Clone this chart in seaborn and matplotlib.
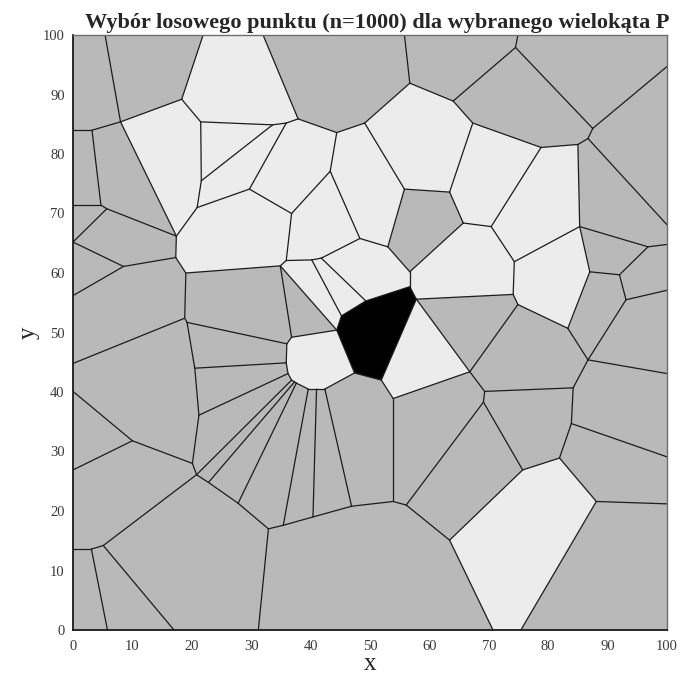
import matplotlib
matplotlib.use("Agg")
import matplotlib.pyplot as plt
import pandas as pd
import seaborn as sns

# ---------------------------------------------------------------- vertices
# Points where Voronoi edges meet the frame [0, 100] x [0, 100]
frame_pts = {
    "T1": (5.4, 100), "T2": (21.9, 100), "T3": (32.0, 100), "T4": (55.8, 100), "T5": (74.9, 100),
    "L1": (0, 84.0), "L2": (0, 71.4), "L3": (0, 65.2), "L4": (0, 56.2),
    "L5": (0, 44.8), "L6": (0, 40.1), "L7": (0, 26.9), "L8": (0, 13.6),
    "B1": (5.8, 0), "B2": (17.0, 0), "B3": (31.2, 0), "B4": (70.7, 0), "B5": (75.4, 0),
    "R1": (100, 94.7), "R2": (100, 68.1), "R3": (100, 64.8), "R4": (100, 57.1),
    "R5": (100, 43.1), "R6": (100, 29.1), "R7": (100, 21.2),
}

# Voronoi vertices, upper half
upper_pts = {
    "V1": (8.0, 85.4), "V2": (3.2, 84.0), "V3": (4.7, 71.4), "V4": (5.7, 70.8),
    "V5": (8.5, 61.1), "V6": (17.3, 62.6), "V7": (17.4, 66.2), "V8": (19.0, 60.0),
    "V5a": (18.3, 89.2), "V6a": (21.5, 85.4), "V8a": (21.6, 75.5), "V9a": (20.9, 71.0),
    "V17": (33.6, 84.9), "V18": (35.9, 85.2), "V7a": (37.9, 85.9), "V10a": (29.7, 74.1),
    "V11": (44.4, 83.6), "V12": (49.1, 85.2), "V13": (56.7, 91.9), "V14": (64.0, 88.9),
    "V15": (43.3, 77.1), "V16": (36.8, 70.0), "V19": (55.8, 74.1), "V20": (63.4, 73.6),
    "V21": (65.7, 68.4), "V22": (74.5, 97.9), "V23": (87.5, 84.3), "V24": (86.7, 82.6),
    "V25": (85.0, 81.6), "V26": (78.8, 81.1), "V27": (67.3, 85.2), "V28": (70.4, 67.8),
    "V29": (85.3, 67.8), "V30": (74.3, 61.9), "V33": (96.8, 64.4), "V34": (87.0, 60.2),
    "V35": (92.0, 59.7), "V43": (35.9, 62.1), "V44": (34.9, 61.2), "Tj": (40.2, 62.2),
    "V45": (41.8, 62.5), "V46": (48.3, 65.8), "V47": (53.0, 64.4), "V48": (56.7, 60.2),
}

# Voronoi vertices, lower half
lower_pts = {
    "V9": (18.8, 52.4), "V10": (19.2, 51.7), "C1": (20.5, 44.0), "C2": (21.2, 36.1),
    "C3": (20.1, 28.0), "C4": (20.8, 26.1), "V13b": (10.0, 31.8), "V16b": (5.1, 14.2),
    "V17b": (3.1, 13.6), "Fa": (22.8, 24.8), "V17c": (27.8, 21.3), "V18c": (32.9, 17.0),
    "Fb": (35.4, 17.6), "Fc": (40.4, 19.0), "Fd": (46.9, 20.8), "V59": (53.9, 21.6),
    "V58": (56.1, 21.0), "V57": (63.4, 15.1), "V52": (53.9, 38.9), "V31": (74.1, 56.4),
    "V32": (74.9, 54.7), "V36": (93.1, 55.5), "V37": (86.7, 45.4), "V38": (83.3, 50.7),
    "V39": (84.2, 40.7), "V40": (69.3, 40.1), "V41": (66.8, 43.4), "V42": (69.1, 38.3),
    "V53": (75.7, 26.9), "V54": (81.9, 28.9), "V55": (83.9, 34.7), "V56": (88.1, 21.6),
}

# Rounded cell left of the sampled polygon
round_pts = {
    "RC1": (36.0, 48.1), "RC2": (36.8, 49.2), "RC5": (42.4, 40.5), "RC6": (41.0, 40.5),
    "RC7": (39.6, 40.5), "RC8": (37.6, 41.5), "RC9": (37.3, 41.7), "RC10": (36.8, 42.0),
    "RC11": (36.2, 43.1), "RC12": (35.9, 44.9),
}

# Chosen polygon P
poly_p = {
    "P1": (44.4, 50.4), "P2": (45.2, 52.8), "P3": (49.3, 55.3), "P4": (56.7, 57.7),
    "P5": (57.8, 55.6), "P6": (51.9, 42.0), "P7": (47.4, 43.2),
}

pts = {**frame_pts, **upper_pts, **lower_pts, **round_pts, **poly_p}

# ------------------------------------------------------------------- edges
edges_upper = [
    ("T1", "V1"), ("V1", "V2"), ("V2", "L1"), ("V2", "V3"), ("V3", "L2"), ("V3", "V4"),
    ("V4", "L3"), ("V4", "V7"), ("V1", "V5a"), ("V1", "V7"), ("V5a", "T2"), ("V5a", "V6a"),
    ("V6a", "V17"), ("V6a", "V8a"), ("V8a", "V17"), ("V8a", "V9a"), ("V9a", "V7"),
    ("V9a", "V10a"), ("V17", "V18"), ("V18", "V7a"), ("V18", "V10a"), ("V7a", "T3"),
    ("V7a", "V11"), ("V11", "V12"), ("V11", "V15"), ("V15", "V16"), ("V15", "V46"),
    ("V16", "V10a"), ("V16", "V43"), ("V12", "V13"), ("V12", "V19"), ("V13", "T4"),
    ("V13", "V14"), ("V14", "V22"), ("V14", "V27"), ("V22", "T5"), ("V22", "V23"),
    ("V23", "R1"), ("V23", "V24"), ("V24", "R2"), ("V24", "V25"), ("V25", "V26"),
    ("V25", "V29"), ("V26", "V27"), ("V26", "V28"), ("V27", "V20"), ("V20", "V19"),
    ("V20", "V21"), ("V19", "V47"), ("V21", "V48"), ("V21", "V28"), ("V28", "V30"),
    ("V30", "V29"), ("V30", "V31"), ("V29", "V33"), ("V29", "V34"), ("V33", "R3"),
    ("V33", "V35"), ("V34", "V35"), ("V34", "V38"), ("V35", "V36"), ("V36", "R4"),
    ("V36", "V37"), ("V6", "V7"), ("V6", "V5"), ("V5", "L3"), ("V5", "L4"),
    ("V8", "V6"), ("V8", "V44"), ("V44", "V43"), ("V43", "Tj"), ("Tj", "V45"),
    ("V45", "V46"), ("V46", "V47"), ("V47", "V48"),
]

edges_lower = [
    ("V37", "R5"), ("V37", "V38"), ("V37", "V39"), ("V38", "V32"), ("V32", "V31"),
    ("V32", "V41"), ("V31", "P5"), ("V41", "P5"), ("V41", "V40"), ("V41", "V52"),
    ("V40", "V39"), ("V40", "V42"), ("V39", "V55"), ("V55", "R6"), ("V55", "V54"),
    ("V54", "V53"), ("V54", "V56"), ("V56", "R7"), ("V56", "B5"), ("V53", "V42"),
    ("V53", "V57"), ("V57", "B4"), ("V57", "V58"), ("V58", "V42"), ("V58", "V59"),
    ("V59", "V52"), ("V59", "Fd"), ("V52", "P6"), ("Fd", "Fc"), ("Fc", "Fb"),
    ("Fb", "V18c"), ("V18c", "B3"), ("V18c", "V17c"), ("V17c", "Fa"), ("Fa", "C4"),
    ("C4", "C3"), ("C4", "V16b"), ("C3", "C2"), ("C3", "V13b"), ("V13b", "L6"),
    ("V13b", "L7"), ("C2", "C1"), ("C1", "V10"), ("V10", "V9"), ("V9", "L5"),
    ("V9", "V8"), ("V16b", "V17b"), ("V16b", "B2"), ("V17b", "L8"), ("V17b", "B1"),
    ("V44", "RC2"), ("V44", "P1"), ("Tj", "P2"), ("V45", "P3"), ("V48", "P4"),
]

# Fan of edges ending on the rounded cell, and that cell's outline
edges_round = [
    ("C1", "RC12"), ("C2", "RC11"), ("C4", "RC10"), ("Fa", "RC9"), ("V17c", "RC8"),
    ("Fb", "RC7"), ("Fc", "RC6"), ("Fd", "RC5"), ("V10", "RC1"),
    ("RC1", "RC2"), ("RC2", "P1"), ("P7", "RC5"), ("RC5", "RC6"), ("RC6", "RC7"),
    ("RC7", "RC8"), ("RC8", "RC9"), ("RC9", "RC10"), ("RC10", "RC11"),
    ("RC11", "RC12"), ("RC12", "RC1"),
]

# -------------------------------------------------------------- cell fills
light_cells = [
    ["T2", "T3", "V7a", "V18", "V17", "V6a", "V5a"],
    ["V1", "V5a", "V6a", "V8a", "V9a", "V7"],
    ["V6a", "V17", "V8a"],
    ["V8a", "V17", "V18", "V10a", "V9a"],
    ["V7", "V9a", "V10a", "V16", "V43", "V44", "V8", "V6"],
    ["V7a", "V11", "V15", "V16", "V10a", "V18"],
    ["V11", "V12", "V19", "V47", "V46", "V15"],
    ["V12", "V13", "V14", "V27", "V20", "V19"],
    ["V27", "V26", "V28", "V21", "V20"],
    ["V26", "V25", "V29", "V30", "V28"],
    ["V30", "V29", "V34", "V38", "V32", "V31"],
    ["V21", "V28", "V30", "V31", "P5", "P4", "V48"],
    ["V15", "V46", "V45", "Tj", "V43", "V16"],
    ["V44", "V43", "Tj", "P2", "P1"],
    ["Tj", "V45", "P3", "P2"],
    ["V45", "V46", "V47", "V48", "P4", "P3"],
    ["P5", "V41", "V52", "P6"],
    ["V57", "V53", "V54", "V56", "B5", "B4"],
    ["RC1", "RC2", "P1", "P7", "RC5", "RC6", "RC7", "RC8", "RC9", "RC10", "RC11", "RC12"],
]
sampled_cell = ["P1", "P2", "P3", "P4", "P5", "P6", "P7"]

title = "Wybór losowego punktu (n=1000) dla wybranego wielokąta P"
ticks = list(range(0, 101, 10))

GRAY = "#b9b9b9"
LIGHT = "#ececec"
EDGE = "#1c1c1c"

# ------------------------------------------------------------------ figure
sns.set_style("white")
plt.rcParams["font.family"] = ["Liberation Serif", "DejaVu Serif"]

fig = plt.figure(figsize=(6.8, 6.88), dpi=100)
ax = fig.add_axes([73 / 680, 58 / 688, 594 / 680, 595 / 688])
ax.set_facecolor(GRAY)

for cell in light_cells:
    ax.fill([pts[k][0] for k in cell], [pts[k][1] for k in cell],
            color=LIGHT, lw=0, zorder=1)

ax.fill([pts[k][0] for k in sampled_cell], [pts[k][1] for k in sampled_cell],
        color="black", lw=0, zorder=2)

all_edges = edges_upper + edges_lower + edges_round
all_edges += [(sampled_cell[i], sampled_cell[(i + 1) % len(sampled_cell)])
              for i in range(len(sampled_cell))]
rows = []
for i, (a, b) in enumerate(all_edges):
    rows.append({"edge": i, "x": pts[a][0], "y": pts[a][1]})
    rows.append({"edge": i, "x": pts[b][0], "y": pts[b][1]})
seg = pd.DataFrame(rows)
sns.lineplot(data=seg, x="x", y="y", units="edge", estimator=None, sort=False,
             color=EDGE, lw=0.9, ax=ax, legend=False, zorder=3)

ax.set_xlim(0, 100)
ax.set_ylim(0, 100)
ax.set_xticks(ticks)
ax.set_yticks(ticks)
ax.tick_params(direction="in", length=4, width=0.8, colors="black",
               labelcolor="#3a3a3a", labelsize=10.5, top=False, right=False)
ax.tick_params(axis="x", pad=7)
ax.tick_params(axis="y", pad=6)
for side in ("left", "bottom"):
    ax.spines[side].set_color("#1a1a1a")
    ax.spines[side].set_linewidth(1.3)
for side in ("top", "right"):
    ax.spines[side].set_color("#6e6e6e")
    ax.spines[side].set_linewidth(1.0)
ax.spines[:].set_zorder(5)

ax.set_title(title, fontsize=16, fontweight="bold", pad=5)
ax.title.set_x(0.513)
ax.set_xlabel("x", fontsize=18, labelpad=0)
ax.set_ylabel("y", fontsize=18, labelpad=2)

fig.savefig("out.png", dpi=100, facecolor="white")
